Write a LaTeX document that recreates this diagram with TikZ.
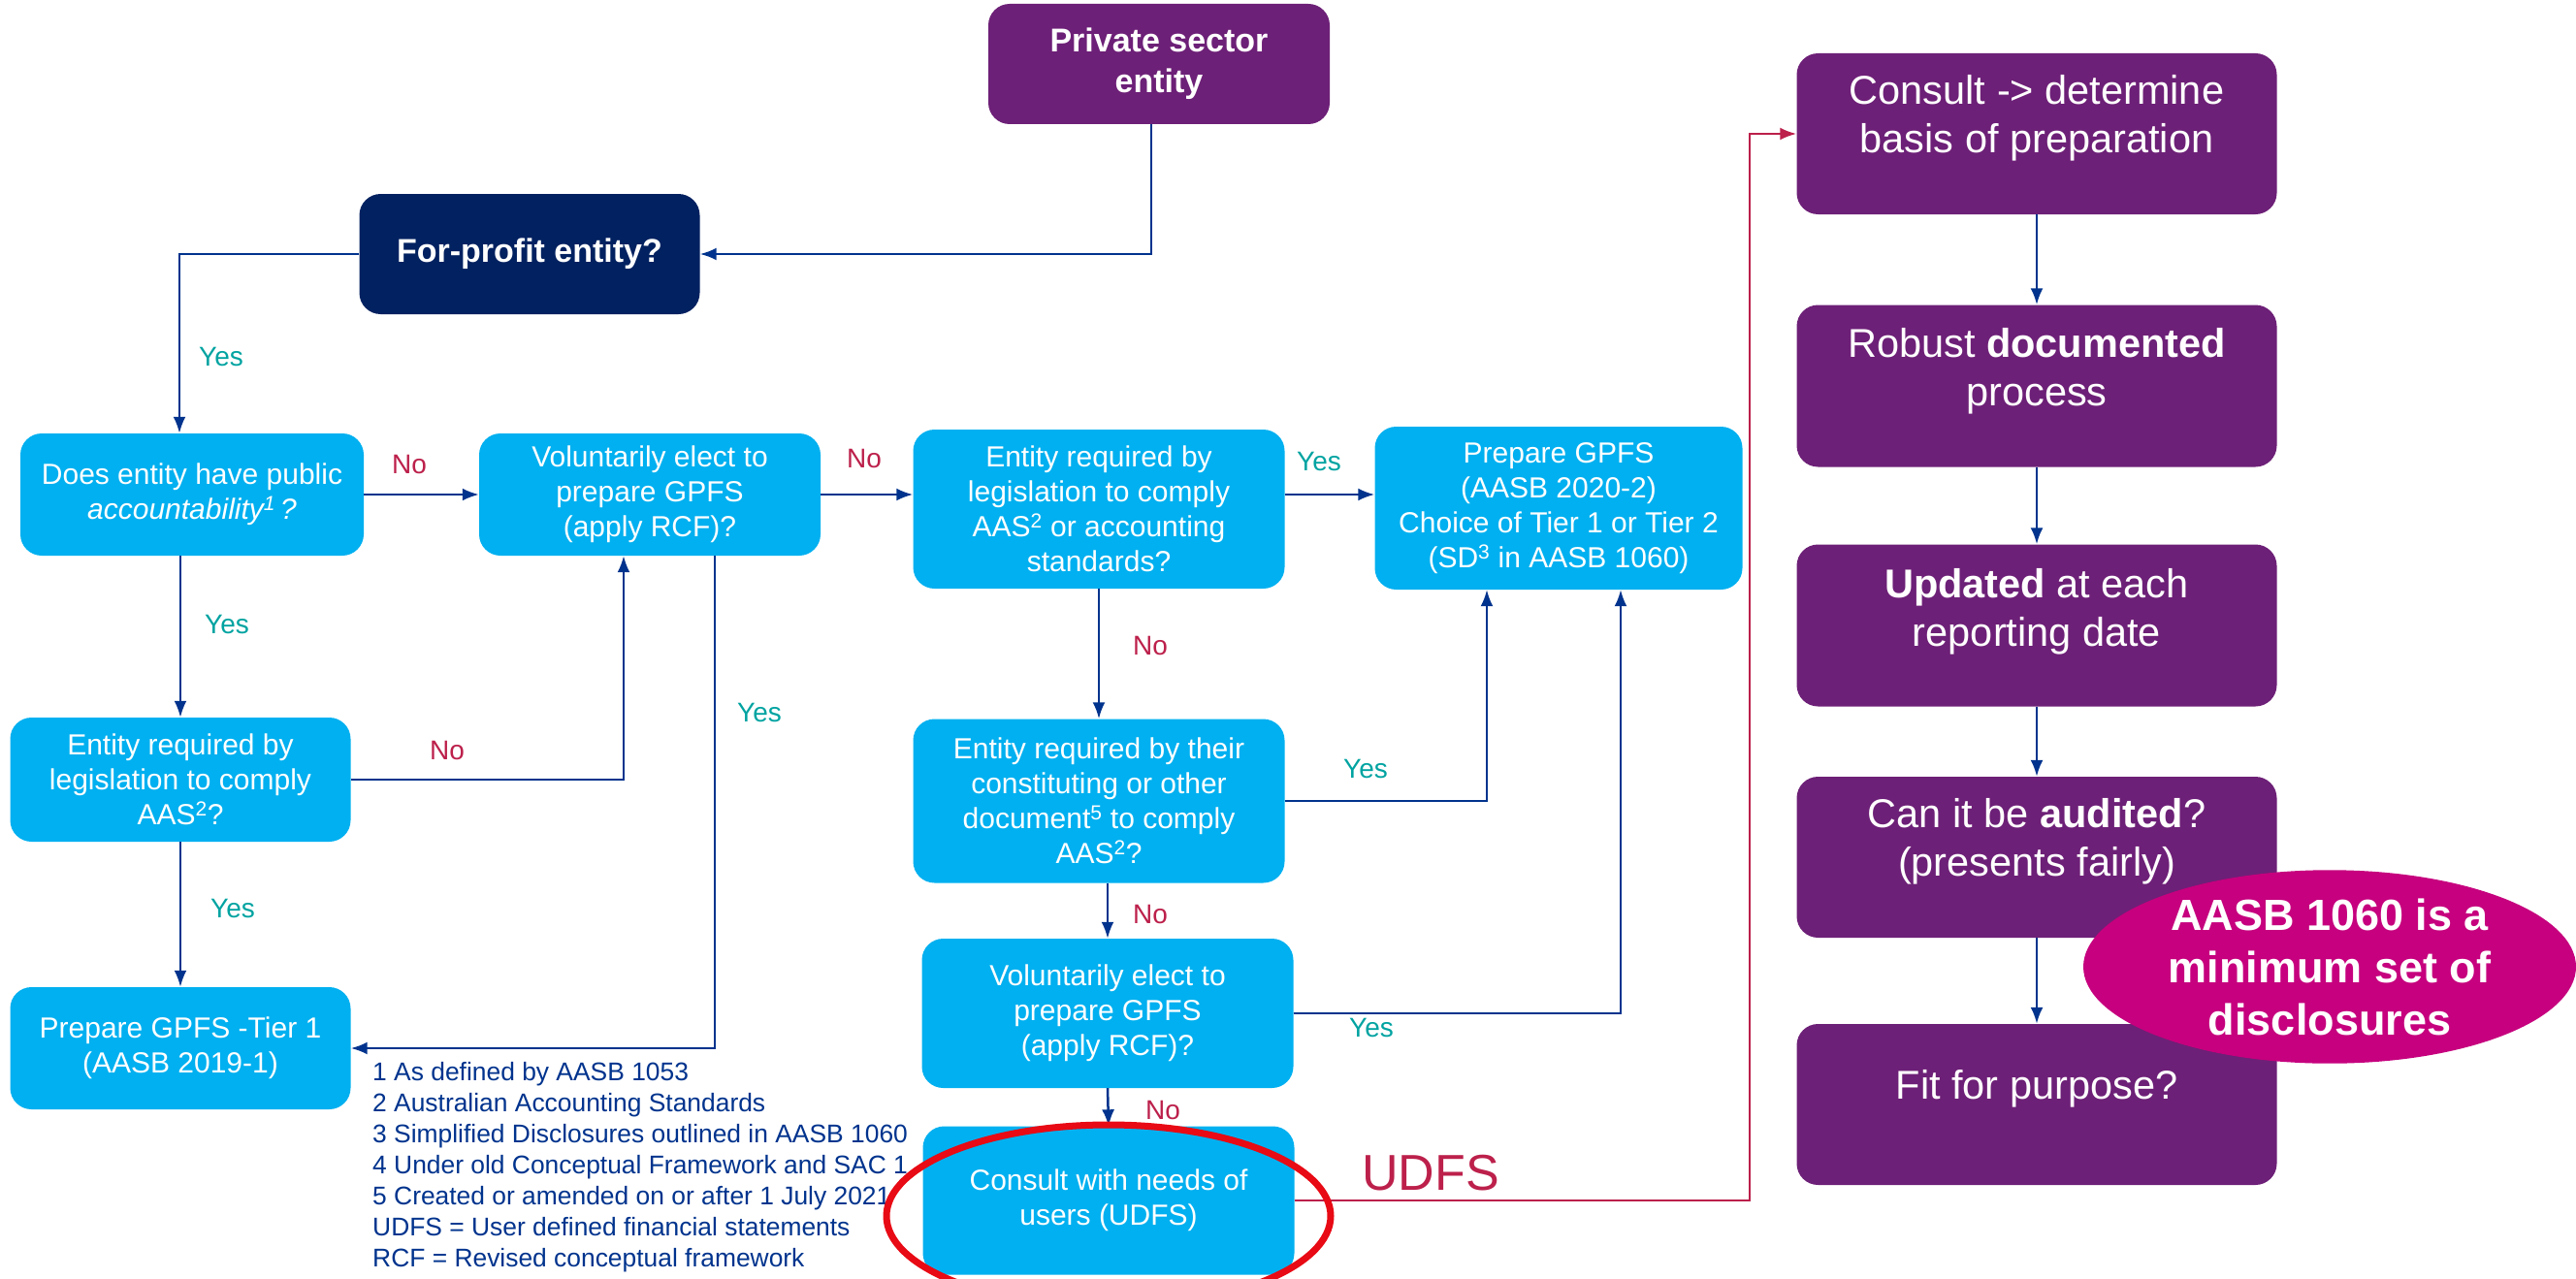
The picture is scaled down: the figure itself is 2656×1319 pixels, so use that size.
\documentclass[tikz,border=0pt]{standalone}
\usepackage{fontspec}
\setmainfont{Liberation Sans}
\usetikzlibrary{arrows.meta,shapes.geometric}
\definecolor{lblue}{RGB}{0,176,240}
\definecolor{knavy}{RGB}{2,33,96}
\definecolor{kpurple}{RGB}{109,32,119}
\definecolor{kmagenta}{RGB}{198,0,126}
\definecolor{kblue}{RGB}{0,51,141}
\definecolor{kteal}{RGB}{0,163,161}
\definecolor{kred}{RGB}{188,32,75}
\definecolor{ringred}{RGB}{232,10,20}
\begin{document}
\begin{tikzpicture}[x=1pt,y=-1pt,
  box/.style={rounded corners=22pt, inner sep=0pt, align=center, text=white},
  bbox/.style={box, fill=lblue, font=\fontsize{30}{36}\selectfont},
  pbox/.style={box, fill=kpurple},
  ptext/.style={text=white, align=center, inner sep=0pt, font=\fontsize{41.5}{50}\selectfont},
  conn/.style={draw=kblue, line width=2.5pt, -{Latex[length=17pt,width=13pt]}},
  redconn/.style={draw=kred, line width=2.5pt, -{Latex[length=17pt,width=13pt]}},
  yes/.style={text=kteal, inner sep=0pt, font=\fontsize{28}{32}\selectfont},
  no/.style={text=kred, inner sep=0pt, font=\fontsize{28}{32}\selectfont}]
\useasboundingbox (0,0) rectangle (2656,1319);

% ---- left / middle flow boxes
\node[box, fill=kpurple, minimum width=352pt, minimum height=124pt, font=\bfseries\fontsize{34}{42}\selectfont] (priv) at (1195,66) {Private sector\\entity};
\node[box, fill=knavy, minimum width=351pt, minimum height=124pt, font=\bfseries\fontsize{34}{42}\selectfont] (fp) at (546,262) {For-profit entity?};
\node[bbox, minimum width=354pt, minimum height=126pt] (pub) at (198,510) {Does entity have public\\\textit{accountability\textsuperscript{1}\,?}};
\node[bbox, minimum width=352pt, minimum height=126pt] (vol1) at (670,510) {Voluntarily elect to\\prepare GPFS\\(apply RCF)?};
\node[bbox, minimum width=383pt, minimum height=164pt] (leg) at (1133,525) {Entity required by\\legislation to comply\\AAS\textsuperscript{2} or accounting\\standards?};
\node[bbox, minimum width=379pt, minimum height=168pt] (gpfs) at (1607,524) {Prepare GPFS\\(AASB 2020-2)\\Choice of Tier 1 or Tier 2\\(SD\textsuperscript{3} in AASB 1060)};
\node[bbox, minimum width=351pt, minimum height=128pt] (aas) at (186,804) {Entity required by\\legislation to comply\\AAS\textsuperscript{2}?};
\node[bbox, minimum width=351pt, minimum height=126pt] (tier1) at (186,1081) {Prepare GPFS -Tier 1\\(AASB 2019-1)};
\node[bbox, minimum width=383pt, minimum height=169pt] (const) at (1133,826) {Entity required by their\\constituting or other\\document\textsuperscript{5} to comply\\AAS\textsuperscript{2}?};
\node[bbox, minimum width=383pt, minimum height=154pt] (vol2) at (1142,1045) {Voluntarily elect to\\prepare GPFS\\(apply RCF)?};
\node[bbox, minimum width=383pt, minimum height=153pt] (users) at (1143,1238) {Consult with needs of\\users (UDFS)};

% ---- right column
\node[pbox, minimum width=495pt, minimum height=166pt] (cons) at (2100,138) {};
\node[ptext] (consT) at ([yshift=16pt]cons.center) {Consult -> determine\\basis of preparation};
\node[pbox, minimum width=495pt, minimum height=167pt] (rob) at (2100,398) {};
\node[ptext] (robT) at ([yshift=15pt]rob.center) {Robust \textbf{documented}\\process};
\node[pbox, minimum width=495pt, minimum height=167pt] (upd) at (2100,645) {};
\node[ptext] (updT) at ([yshift=14pt]upd.center) {\textbf{Updated} at each\\reporting date};
\node[pbox, minimum width=495pt, minimum height=166pt] (aud) at (2100,884) {};
\node[ptext] (audT) at ([yshift=16pt]aud.center) {Can it be \textbf{audited}?\\(presents fairly)};
\node[pbox, minimum width=495pt, minimum height=166pt] (fit) at (2100,1139) {};
\node[ptext] (fitT) at ([yshift=16pt]fit.center) {Fit for purpose?};

% ---- connectors
\draw[conn] ([xshift=-8pt]priv.south) |- (fp.east);
\coordinate (fpturn) at (185,262);
\draw[conn] (fp.west) -- (fpturn) -- (fpturn |- pub.north);
\node[yes, anchor=west] (y1) at (205,368) {Yes};

\draw[conn] (pub.east) -- (vol1.west);
\node[no] (n1) at (422,479) {No};
\draw[conn] (vol1.east) -- (vol1.east -| leg.west);
\node[no] (n2) at (891,473) {No};
\draw[conn] ([yshift=15pt]leg.east) -- ([yshift=15pt]leg.east -| gpfs.west);
\node[yes] (y2) at (1360,476) {Yes};

\draw[conn] (aas.north |- pub.south) -- (aas.north);
\node[yes] (y3) at (234,644) {Yes};
\draw[conn] (aas.east) -| ([xshift=-27pt]vol1.south);
\node[no] (n3) at (461,774) {No};
\draw[conn] ([xshift=67pt]vol1.south) |- (tier1.east);
\node[yes] (y4) at (783,735) {Yes};
\draw[conn] (aas.south) -- (tier1.north);
\node[yes] (y5) at (240,937) {Yes};

\draw[conn] (leg.south) -- (leg.south |- const.north);
\node[no] (n4) at (1186,666) {No};
\draw[conn] (const.east) -| ([xshift=-74pt]gpfs.south);
\node[yes] (y6) at (1408,793) {Yes};
\draw[conn] (vol2.north |- const.south) -- (vol2.north);
\node[no] (n5) at (1186,943) {No};
\draw[conn] (vol2.east) -| ([xshift=64pt]gpfs.south);
\node[yes] (y7) at (1414,1060) {Yes};
\draw[conn] (vol2.south) -- (users.north);
\node[no] (n6) at (1199,1145) {No};

\coordinate (udfsturn) at (1804,1238);
\draw[redconn] (users.east) -- (udfsturn) |- (cons.west);
\node[text=kred, inner sep=0pt, font=\fontsize{52}{60}\selectfont] (udfs) at (1475,1210) {UDFS};

\draw[conn] (cons.south) -- (rob.north);
\draw[conn] (rob.south) -- (upd.north);
\draw[conn] (upd.south) -- (aud.north);
\draw[conn] (aud.south) -- (fit.north);

% ---- footnotes
\node[anchor=west, align=left, inner sep=0pt, text=kblue, font=\fontsize{26.4}{32}\selectfont] (notes) at (384,1204)
 {1 As defined by AASB 1053\\2 Australian Accounting Standards\\3 Simplified Disclosures outlined in AASB 1060\\4 Under old Conceptual Framework and SAC 1\\5 Created or amended on or after 1 July 2021\\UDFS = User defined financial statements\\RCF = Revised conceptual framework};

% ---- highlights
\node[draw=ringred, line width=7pt, ellipse, minimum width=458pt, minimum height=188pt, inner sep=0pt] (ring) at (1143,1254) {};
\node[ellipse, fill=kmagenta, minimum width=508pt, minimum height=194pt, inner sep=0pt, text=white, align=center, font=\bfseries\fontsize{45}{54}\selectfont] (aasb) at (2402,997) {AASB 1060 is a\\minimum set of\\disclosures};
\end{tikzpicture}
\end{document}
